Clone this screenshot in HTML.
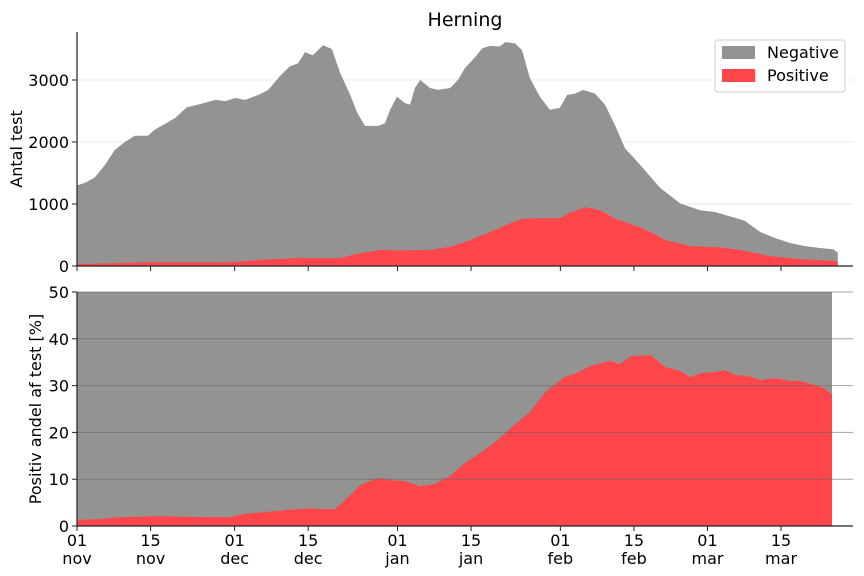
<!DOCTYPE html>
<html><head><meta charset="utf-8"><style>
body{margin:0;background:#fff}
svg{display:block;font-family:"DejaVu Sans","Liberation Sans",sans-serif}
</style></head><body>
<svg id="c" width="864" height="576" viewBox="0 0 864 576" xmlns="http://www.w3.org/2000/svg">
<text x="465" y="26" font-size="19" text-anchor="middle">Herning</text>
<g id="topPanel"></g>
<g id="botPanel"></g>
<g>
<rect x="715" y="40" width="130" height="52" rx="3" fill="#fff" stroke="#ccc"/>
<rect x="722" y="46" width="33" height="13" fill="#939491"/>
<text x="767" y="58" font-size="16">Negative</text>
<rect x="722" y="69" width="33" height="13" fill="#ff464b"/>
<text x="767" y="81" font-size="16">Positive</text>
</g>
</svg>
<script>
const totalDays=[0,1.5,3.4,5.3,7.2,9.1,11,13.5,14.8,16.7,18.7,20.9,23.4,26.3,28.2,30.1,32,34.8,36.4,38.6,40.5,42.1,43.4,44.9,46.8,48.5,50.1,52,53.3,54.8,57.3,58.6,59.6,60.9,62.4,63.4,64.3,65.3,67.2,68.7,71,72.5,73.8,75.8,77.1,78.6,80.5,81.5,83.4,84.7,86.2,88.1,90,91.9,93.3,94.8,96.3,98.6,100.5,102.4,104.3,107.2,111,114.8,118.6,121.4,124.3,127.1,130,132.9,135.7,138.6,141.4,143.9,144.8];
const totalTests=[1300,1340,1430,1630,1870,2000,2100,2100,2200,2290,2390,2560,2610,2680,2660,2710,2680,2770,2840,3060,3220,3270,3450,3400,3560,3500,3110,2760,2480,2260,2260,2300,2520,2730,2630,2600,2870,3000,2870,2840,2870,3000,3190,3370,3510,3550,3540,3610,3590,3480,3030,2730,2520,2550,2760,2780,2840,2780,2600,2270,1900,1630,1260,1010,900,870,800,730,550,450,370,320,290,270,220];
const posDays=[0,13.9,29.1,34.8,42.4,50.1,52.9,57.7,61.5,67.2,71,74.8,78.6,82.4,84.7,87.2,91.9,93.5,96.7,99.6,102.4,105.3,109.1,111.9,116.7,122.4,126.2,131.9,137.6,144.3,144.8];
const posTests=[30,60,60,100,130,130,190,260,250,260,310,420,550,690,760,770,770,850,950,900,760,680,550,420,320,300,260,160,110,80,70];
const pctDays=[0,4.4,8.2,15.8,23.4,29.1,32,35.8,39.6,44.3,46.2,49.1,51,53.9,57.3,59.6,62.4,65.3,68.1,71,73.8,76.7,80.5,83.4,86.2,89.1,92.9,94.8,97.6,101.4,103.3,105.3,109.1,111.9,114.8,116.7,118.6,121.4,123.3,125.2,128,129.9,132.9,135.7,137.6,140.5,142.4,143.7];
const pctValues=[1.3,1.5,1.9,2.1,1.9,1.9,2.6,3.0,3.4,3.8,3.6,3.6,5.6,8.8,10.3,9.8,9.6,8.5,9.0,10.7,13.5,15.6,18.8,21.8,24.4,28.6,32,32.5,34.2,35.3,34.6,36.3,36.5,34,33.1,31.8,32.7,32.9,33.3,32.3,32,31.2,31.6,31,31,30.1,29.3,28];
const tickDays=[0,14,30,44,61,75,92,106,120,134];
const tickDay=["01","15","01","15","01","15","01","15","01","15"];
const tickMon=["nov","nov","dec","dec","jan","jan","feb","feb","mar","mar"];
const topTicks=[0,1000,2000,3000];
const botTicks=[0,10,20,30,40,50];

const NS="http://www.w3.org/2000/svg";
const X0=77,X1=853,PX=5.254;
const xs=d=>X0+d*PX;
const yT=v=>266-v*0.062;
const yB=v=>526-v*4.68;
function mk(p,tag,a){const e=document.createElementNS(NS,tag);for(const k in a)e.setAttribute(k,a[k]);p.appendChild(e);return e;}
function area(days,vals,yf,y0){let d=`M${xs(days[0])},${y0}`;days.forEach((t,i)=>d+=`L${xs(t)},${yf(vals[i])}`);d+=`L${xs(days[days.length-1])},${y0}Z`;return d;}
const topG=document.getElementById('topPanel'),botG=document.getElementById('botPanel');
topTicks.forEach(v=>{if(v>0){const g=mk(topG,'line',{x1:X0,x2:X1,y1:yT(v),y2:yT(v),stroke:'#ebebeb'});

}});
const neg=mk(topG,'path',{d:area(totalDays,totalTests,yT,266),fill:'#939491'});


const pos=mk(topG,'path',{d:area(posDays,posTests,yT,266),fill:'#ff464b'});


mk(topG,'path',{d:`M${X0},32V266H${X1}`,stroke:'#222',fill:'none','stroke-width':1.2});
topTicks.forEach(v=>{mk(topG,'line',{x1:X0-5,x2:X0,y1:yT(v),y2:yT(v),stroke:'#222'});
const t=mk(topG,'text',{x:X0-8,y:yT(v)+6,'font-size':16,'text-anchor':'end'});t.textContent=v;

});
tickDays.forEach(d=>mk(topG,'line',{x1:xs(d),x2:xs(d),y1:266,y2:271,stroke:'#222'}));
const yl=mk(topG,'text',{x:22,y:149,'font-size':16,'text-anchor':'middle',transform:'rotate(-90 22 149)'});yl.textContent='Antal test';


const bg=mk(botG,'path',{d:`M${xs(0)},526V${yB(50)}H${xs(pctDays[pctDays.length-1])}V526Z`,fill:'#939491'});


const pa=mk(botG,'path',{d:area(pctDays,pctValues,yB,526),fill:'#ff464b'});


botTicks.forEach(v=>{if(v>0){const g=mk(botG,'line',{x1:X0,x2:X1,y1:yB(v),y2:yB(v),stroke:'#666','stroke-opacity':0.6});

}
mk(botG,'line',{x1:X0-5,x2:X0,y1:yB(v),y2:yB(v),stroke:'#222'});
const t=mk(botG,'text',{x:X0-8,y:yB(v)+6,'font-size':16,'text-anchor':'end'});t.textContent=v;

});
mk(botG,'path',{d:`M${X0},292V526H${X1}`,stroke:'#222',fill:'none','stroke-width':1.2});
tickDays.forEach((d,i)=>{mk(botG,'line',{x1:xs(d),x2:xs(d),y1:526,y2:531,stroke:'#222'});
const a=mk(botG,'text',{x:xs(d),y:546,'font-size':16,'text-anchor':'middle'});a.textContent=tickDay[i];


const b=mk(botG,'text',{x:xs(d),y:564,'font-size':16,'text-anchor':'middle'});b.textContent=tickMon[i];

});
const yl2=mk(botG,'text',{x:41,y:409,'font-size':16,'text-anchor':'middle',transform:'rotate(-90 41 409)'});yl2.textContent='Positiv andel af test [%]';


</script>
</body></html>
